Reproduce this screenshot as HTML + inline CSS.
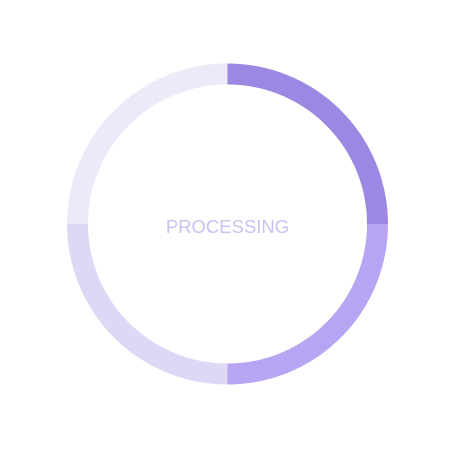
<!DOCTYPE html>
<html><head><style>html,body{margin:0;padding:0;background:#fff;width:450px;height:450px;overflow:hidden}</style></head>
<body>
<svg width="450" height="450" viewBox="0 0 450 450" xmlns="http://www.w3.org/2000/svg">
<g fill="none" stroke-width="21">
<path d="M227.5 74 A150 150 0 0 1 377.5 224" stroke="#9c88e3"/>
<path d="M377.5 224 A150 150 0 0 1 227.5 374" stroke="#b7a5f3"/>
<path d="M227.5 374 A150 150 0 0 1 77.5 224" stroke="#ded7f5"/>
<path d="M77.5 224 A150 150 0 0 1 227.5 74" stroke="#ede9f8"/>
</g>
<text x="227.5" y="233" text-anchor="middle" font-family="Liberation Sans, sans-serif" font-size="18.5" fill="#cbc0f1">PROCESSING</text>
</svg>
</body></html>
